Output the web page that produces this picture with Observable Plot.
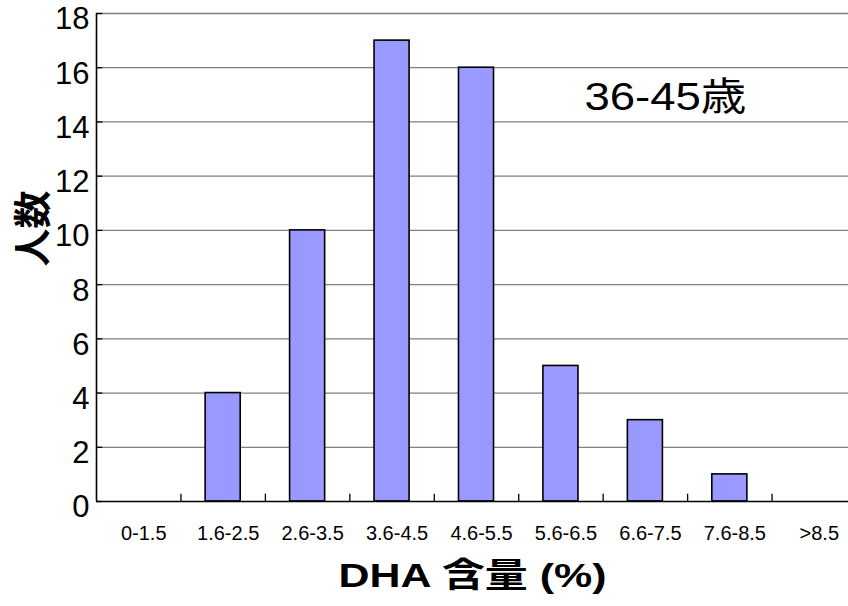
<!DOCTYPE html>
<html>
<head>
<meta charset="utf-8">
<script src="https://cdn.jsdelivr.net/npm/d3@7"></script>
<script src="https://cdn.jsdelivr.net/npm/@observablehq/plot@0.6"></script>
<style>
  html, body { margin: 0; padding: 0; background: #fff; overflow: hidden; }
  #chart svg { display: block; }
</style>
</head>
<body>
<div id="chart"></div>
<script>
// DHA content distribution, age group 36-45
const categories = ["0-1.5", "1.6-2.5", "2.6-3.5", "3.6-4.5", "4.6-5.5", "5.6-6.5", "6.6-7.5", "7.6-8.5", ">8.5"];
const counts = [0, 4, 10, 17, 16, 5, 3, 1, 0];
const yTicks = [0, 2, 4, 6, 8, 10, 12, 14, 16, 18];
const xTitle = "DHA 含量 (%)";
const yTitle = "人数";
const groupLabel = "36-45歳";

const rows = categories.map((category, i) => ({category, count: counts[i], i}));
const boundaries = d3.range(1, categories.length);

const plot = Plot.plot({
  width: 848,
  height: 606,
  marginLeft: 96,
  marginRight: 0,
  marginTop: 13,
  marginBottom: 105,
  style: {fontFamily: "'Liberation Sans', Arial, 'Noto Sans CJK JP', sans-serif", background: "#fff", overflow: "hidden"},
  x: {type: "linear", domain: [0, categories.length], range: [96, 856], axis: null},
  y: {domain: [0, 18]},
  marks: [
    // horizontal gridlines
    Plot.ruleY(yTicks.filter(t => t > 0), {stroke: "#808080", strokeWidth: 1.3}),
    // short inward ticks on the value axis
    Plot.ruleY(yTicks, {x1: 0, x2: 0.075, stroke: "#000", strokeWidth: 1.3}),
    // bars
    Plot.rectY(rows.filter(d => d.count > 0), {
      x1: d => d.i, x2: d => d.i + 1, y: "count",
      fill: "#9999ff", stroke: "#000", strokeWidth: 1.6,
      insetLeft: 24.7, insetRight: 24.7
    }),
    // category separators on the baseline
    Plot.ruleX(boundaries, {y1: 0, y2: 0.27, stroke: "#000", strokeWidth: 1.3}),
    // axis lines
    Plot.ruleX([0], {stroke: "#000", strokeWidth: 1.6}),
    Plot.ruleY([0], {stroke: "#000", strokeWidth: 1.6}),
    // value axis labels
    Plot.axisY({ticks: yTicks, tickSize: 0, tickPadding: 7, dy: 6, fontSize: 31, label: null, tickFormat: d => d}),
    // category labels
    Plot.text(rows, {x: d => d.i + 0.5, y: 0, text: "category", dx: 5, dy: 32, fontSize: 20, fill: "#000"}),
    // group annotation
    Plot.text([groupLabel], {x: 6.5, y: 14.9, dx: 20, fontSize: 39, fill: "#000"}),
    // axis titles
    Plot.text([xTitle], {frameAnchor: "bottom", lineAnchor: "middle", textAnchor: "middle", dy: 75, fontSize: 34, fontWeight: "bold", fill: "#000"}),
    Plot.text([yTitle], {frameAnchor: "left", textAnchor: "middle", lineAnchor: "middle", dx: -63, dy: -29, rotate: -90, fontSize: 38, fontWeight: "bold", fill: "#000"})
  ]
});

const svg = d3.select(plot);
svg.selectAll("text").filter(function() { return this.textContent === xTitle; })
  .attr("textLength", 268).attr("lengthAdjust", "spacingAndGlyphs");
svg.selectAll("text").filter(function() { return this.textContent === groupLabel; })
  .attr("textLength", 162).attr("lengthAdjust", "spacingAndGlyphs");

document.getElementById("chart").appendChild(plot);
</script>
</body>
</html>
